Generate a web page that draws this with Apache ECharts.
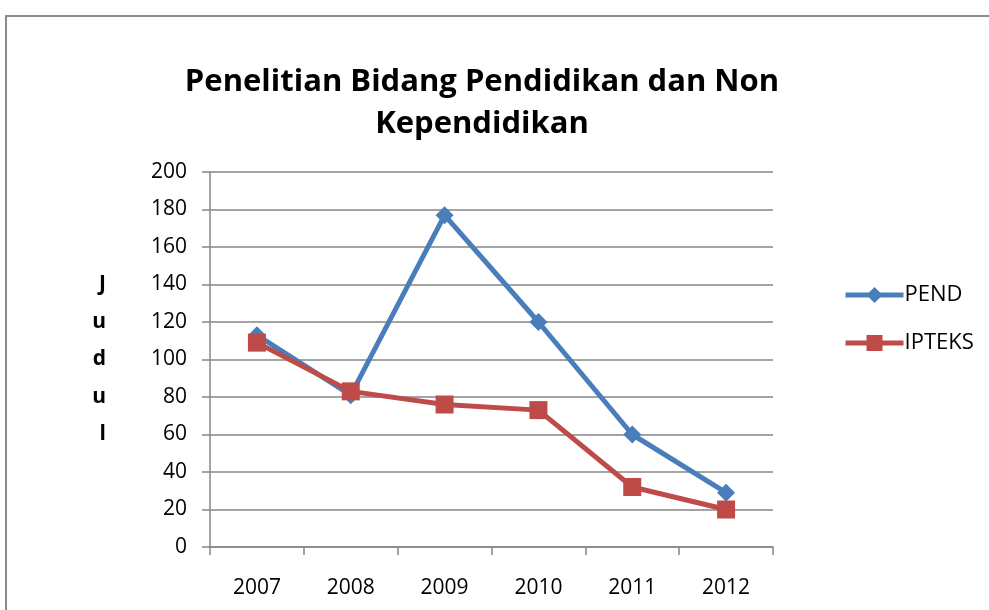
<!DOCTYPE html>
<html>
<head>
<meta charset="utf-8">
<script src="https://cdn.jsdelivr.net/npm/echarts@6/dist/echarts.min.js"></script>
<style>
  html, body { margin: 0; padding: 0; background: #fff; }
  #frame { position: absolute; left: 5px; top: 15px; width: 990px; height: 600px; border: 2px solid #8c8c8c; box-sizing: border-box; }
  #chart { width: 989px; height: 610px; }
</style>
</head>
<body>
<div id="frame"></div>
<div id="chart"></div>
<script>
// data
var years = ['2007', '2008', '2009', '2010', '2011', '2012'];
var pend = [113, 81, 177, 120, 60, 29];
var ipteks = [109, 83, 76, 73, 32, 20];

var font = '"Open Sans", Lato, sans-serif';
var grey = '#868686';

var myChart = echarts.init(document.getElementById('chart'));
myChart.setOption({
  animation: false,
  title: {
    text: 'Penelitian Bidang Pendidikan dan Non\nKependidikan',
    left: 477,
    top: 56,
    textAlign: 'center',
    textStyle: { fontFamily: font, fontWeight: 'bold', fontSize: 31, lineHeight: 42, color: '#000' }
  },
  legend: {
    orient: 'vertical',
    left: 838,
    top: 279,
    itemGap: 26,
    itemWidth: 58,
    itemHeight: 20,
    lineStyle: { width: 5 },
    textStyle: { fontFamily: font, fontSize: 22, color: '#000', padding: [0, 0, 0, -4] },
    data: ['PEND', 'IPTEKS']
  },
  grid: { left: 210, right: 216, top: 172, bottom: 63 },
  xAxis: {
    type: 'category',
    data: years,
    boundaryGap: true,
    axisLine: { lineStyle: { color: grey, width: 1.5 } },
    axisTick: { show: true, length: 8, lineStyle: { color: grey, width: 1.5 } },
    axisLabel: { margin: 31, fontFamily: font, fontSize: 21, color: '#000' },
    splitLine: { show: false }
  },
  yAxis: {
    type: 'value',
    min: 0,
    max: 200,
    interval: 20,
    name: 'J\nu\nd\nu\nl',
    nameLocation: 'middle',
    nameRotate: 0,
    nameGap: 104,
    nameTextStyle: { fontFamily: font, fontWeight: 'bold', fontSize: 21, lineHeight: 37.5, color: '#000' },
    axisLine: { show: true, lineStyle: { color: grey, width: 1.5 } },
    axisTick: { show: true, length: 8, lineStyle: { color: grey, width: 1.5 } },
    axisLabel: { margin: 23, fontFamily: font, fontSize: 21, color: '#000' },
    splitLine: { lineStyle: { color: grey, width: 1.5 } }
  },
  series: [
    {
      name: 'PEND',
      type: 'line',
      data: pend,
      symbol: 'diamond',
      symbolSize: 18,
      color: '#4A7EBB',
      lineStyle: { width: 5, color: '#4A7EBB' },
      itemStyle: { color: '#4A7EBB' }
    },
    {
      name: 'IPTEKS',
      type: 'line',
      data: ipteks,
      symbol: 'rect',
      symbolSize: 18,
      color: '#BE4B48',
      lineStyle: { width: 5, color: '#BE4B48' },
      itemStyle: { color: '#BE4B48' }
    }
  ]
});
</script>
</body>
</html>
